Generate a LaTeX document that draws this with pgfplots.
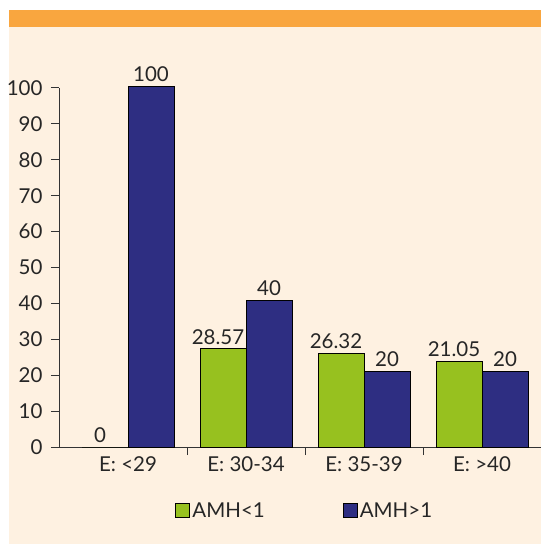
\documentclass[border=0pt]{standalone}
\usepackage{pgfplots}
\pgfplotsset{compat=1.18}
\usepackage{pgfplotstable}
\usepackage{fontspec}
\setmainfont{Lato}
\definecolor{navyb}{RGB}{46,46,130}
\definecolor{greenb}{RGB}{151,193,31}
\definecolor{orangeb}{RGB}{249,166,63}
\definecolor{creamb}{RGB}{254,241,225}
\pgfplotstableread{
x y label
0 0 0
1 27.3 28.57
2 26.1 26.32
3 23.8 21.05
}\greendata
\pgfplotstableread{
x y label
0 100.5 100
1 40.8 40
2 21.0 20
3 21.0 20
}\navydata
\begin{document}
\begin{tikzpicture}
\path[use as bounding box] (0,0) rectangle (541bp,544bp);
\fill[white] (0,0) rectangle (541bp,544bp);
\fill[creamb] (9bp,0) rectangle (541bp,517bp);
\fill[orangeb] (9bp,517bp) rectangle (541bp,534bp);
\begin{axis}[
  at={(59bp,97bp)}, anchor=south west,
  scale only axis, width=482bp, height=359bp,
  xmin=-0.585, xmax=3.5, ymin=0, ymax=100,
  clip=false,
  axis x line=bottom, axis y line=left,
  axis line style={-, line width=1bp, black!80},
  every tick/.style={line width=1bp, black!80},
  tick align=outside, major tick length=8bp,
  ytick={0,10,...,100},
  yticklabel style={xshift=-5bp},
  xtick={0.5,1.5,2.5}, xticklabels={},
  extra x ticks={0,1,2,3},
  extra x tick labels={E: <29, E: 30-34, E: 35-39, E: >40},
  extra x tick style={major tick length=0pt, tick label style={yshift=-6bp}},
  /pgf/number format/assume math mode=true,
  tick label style={font=\fontsize{20.5bp}{23bp}\selectfont, text=black!85},
  ybar=0pt, bar width=46bp,
  nodes near coords,
  point meta=explicit symbolic,
  every node near coord/.append style={font=\fontsize{20.5bp}{23bp}\selectfont, text=black!85, yshift=1bp},
  legend columns=2,
  legend style={at={(0.51,-0.178)}, anchor=center, draw=none, fill=none,
    font=\fontsize{20.5bp}{23bp}\selectfont, text=black!85,
    /tikz/every even column/.append style={column sep=76bp}},
  legend image code/.code={\draw[#1, line width=1bp] (0bp,-7bp) rectangle (14bp,7bp);},
]
\addplot[fill=greenb, draw=black, line width=1bp, every node near coord/.append style={xshift=-5bp}] table[x=x, y=y, meta=label] {\greendata};
\addplot[fill=navyb, draw=black, line width=1bp] table[x=x, y=y, meta=label] {\navydata};
\legend{AMH<1, AMH>1}
\end{axis}
\end{tikzpicture}
\end{document}
